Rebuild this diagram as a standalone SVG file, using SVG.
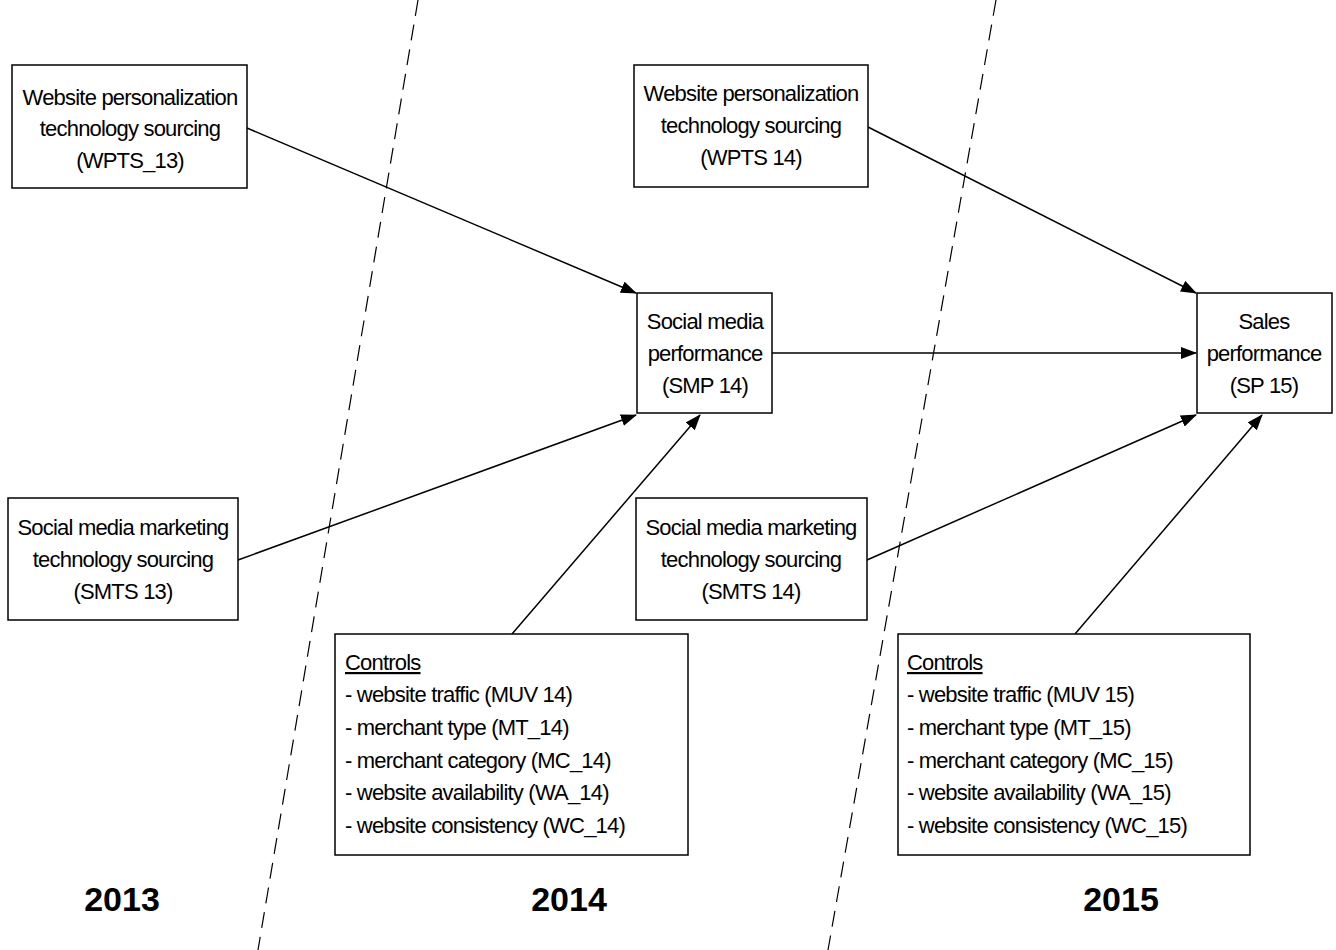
<svg xmlns="http://www.w3.org/2000/svg" width="1336" height="950" viewBox="0 0 1336 950">
<style>
.box{fill:#fff;stroke:#000;stroke-width:1.5}
.t{font-family:"Liberation Sans",Arial,sans-serif;font-size:22px;fill:#000;letter-spacing:-0.8px}
.c{text-anchor:middle}
.yr{font-family:"Liberation Sans",Arial,sans-serif;font-size:34px;font-weight:bold;text-anchor:middle;fill:#000}
.ed{stroke:#000;stroke-width:1.5;fill:none;marker-end:url(#ah)}
.dash{stroke:#000;stroke-width:1.2;stroke-dasharray:16,9;fill:none}
</style>
<defs>
<marker id="ah" markerWidth="16" markerHeight="12" refX="15" refY="6" orient="auto" markerUnits="userSpaceOnUse">
<path d="M0,0 L16,6 L0,12 z" fill="#000"/>
</marker>
</defs>
<rect width="1336" height="950" fill="#fff"/>
<g id="dividers">
<line class="dash" x1="418" y1="0" x2="258" y2="950"/>
<line class="dash" x1="996" y1="0" x2="828" y2="950"/>
</g>
<g id="connectors">
<line class="ed" x1="247" y1="128" x2="636" y2="293"/>
<line class="ed" x1="238" y1="560" x2="636" y2="415"/>
<line class="ed" x1="512" y1="634" x2="700" y2="415"/>
<line class="ed" x1="772" y1="353" x2="1196" y2="353"/>
<line class="ed" x1="868" y1="127" x2="1196" y2="293"/>
<line class="ed" x1="867" y1="560" x2="1196" y2="415"/>
<line class="ed" x1="1075" y1="634" x2="1262" y2="415"/>
</g>
<g id="wpts13">
<rect class="box" x="12" y="65" width="235" height="123"/>
<text class="t c" x="130" y="105">Website personalization</text>
<text class="t c" x="130" y="136">technology sourcing</text>
<text class="t c" x="130" y="168">(WPTS_13)</text>
</g>
<g id="wpts14">
<rect class="box" x="634" y="65" width="234" height="122"/>
<text class="t c" x="751" y="101">Website personalization</text>
<text class="t c" x="751" y="133">technology sourcing</text>
<text class="t c" x="751" y="165">(WPTS 14)</text>
</g>
<g id="smp14">
<rect class="box" x="637" y="293" width="135" height="120"/>
<text class="t c" x="705" y="329">Social media</text>
<text class="t c" x="705" y="361">performance</text>
<text class="t c" x="705" y="393">(SMP 14)</text>
</g>
<g id="sp15">
<rect class="box" x="1197" y="293" width="135" height="120"/>
<text class="t c" x="1264" y="329">Sales</text>
<text class="t c" x="1264" y="361">performance</text>
<text class="t c" x="1264" y="393">(SP 15)</text>
</g>
<g id="smts13">
<rect class="box" x="8" y="498" width="230" height="122"/>
<text class="t c" x="123" y="535">Social media marketing</text>
<text class="t c" x="123" y="567">technology sourcing</text>
<text class="t c" x="123" y="599">(SMTS 13)</text>
</g>
<g id="smts14">
<rect class="box" x="636" y="498" width="231" height="122"/>
<text class="t c" x="751" y="535">Social media marketing</text>
<text class="t c" x="751" y="567">technology sourcing</text>
<text class="t c" x="751" y="599">(SMTS 14)</text>
</g>
<g id="controls14">
<rect class="box" x="335" y="634" width="353" height="221"/>
<text class="t" x="345" y="670" text-decoration="underline">Controls</text>
<text class="t" x="345" y="702">- website traffic (MUV 14)</text>
<text class="t" x="345" y="735">- merchant type (MT_14)</text>
<text class="t" x="345" y="768">- merchant category (MC_14)</text>
<text class="t" x="345" y="800">- website availability (WA_14)</text>
<text class="t" x="345" y="833">- website consistency (WC_14)</text>
</g>
<g id="controls15">
<rect class="box" x="898" y="634" width="352" height="221"/>
<text class="t" x="907" y="670" text-decoration="underline">Controls</text>
<text class="t" x="907" y="702">- website traffic (MUV 15)</text>
<text class="t" x="907" y="735">- merchant type (MT_15)</text>
<text class="t" x="907" y="768">- merchant category (MC_15)</text>
<text class="t" x="907" y="800">- website availability (WA_15)</text>
<text class="t" x="907" y="833">- website consistency (WC_15)</text>
</g>
<g id="years">
<text class="yr" x="122" y="911">2013</text>
<text class="yr" x="569" y="911">2014</text>
<text class="yr" x="1121" y="911">2015</text>
</g>
</svg>
